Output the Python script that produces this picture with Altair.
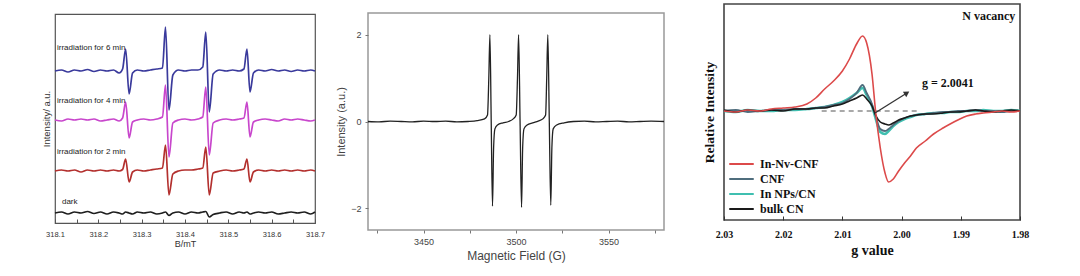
import altair as alt
import pandas as pd

SANS = "Liberation Sans"
SERIF = "Liberation Serif"

# ---------------- Panel A: EPR spectra for the irradiation series ----------------
A_FIELD_MT = [318.100, 318.115, 318.130, 318.145, 318.160, 318.175, 318.190, 318.205,
              318.220, 318.235, 318.248, 318.256, 318.263, 318.271, 318.279, 318.290,
              318.305, 318.320, 318.335, 318.348, 318.355, 318.363, 318.372, 318.385,
              318.400, 318.415, 318.430, 318.441, 318.448, 318.456, 318.465, 318.480,
              318.495, 318.510, 318.525, 318.536, 318.543, 318.550, 318.558, 318.570,
              318.585, 318.600, 318.615, 318.630, 318.645, 318.660, 318.675, 318.690,
              318.700]
A_6MIN = [0, 1, -1, 1, 0, 1.5, -0.5, 1, 0, 1, -2, 2, 22, -23, -2, 1, 0, 1, 2, 3,
          44, -39, -4, 1, 0, 1, 1, 4, 39, -41, -3, 1, 0, 1, 0, 2, 22, -21, -2, 1,
          0, 1.5, 0, 1, -0.5, 1, 0, 1, 0]
A_4MIN = [0, -1, 1, 0, 1, 0, 1, -1, 0, 1, -1, 2, 18, -18, -2, 0, 1, 0, 1, 3,
          35, -37, -3, 0, 1, 0, 1, 3, 33, -35, -3, 0, 1, 0, 1, 2, 18, -17, -2, 0,
          1, 0, -1, 1, 0, 1, 0, -1, 0]
A_2MIN = [0, 1, 0, 1, -1, 1, 0, 1, 0, 1, 0, 1.5, 12, -11, -1, 1, 0, 1, 2, 3,
          26, -24, -3, 0, 1, 1, 2, 3, 24, -24, -2, 0, 1, 0, 1, 2, 12, -11, -1, 1,
          0, 1, 0, 1, 0, 1, 0, 1, 0]
A_DARK = [0, 1, -1, 1, 0, 1.5, -0.5, 1, -1, 1, 0, -1, 1, 0, -1, 1, 0, 1, -1, 0,
          1, -2.5, 0, 1, -1, 1, 0, 1, 1.5, -4, -1.5, 0, 1, -1, 1, 0, 1, -1, 0, 1,
          0, 1, -1, 0, 1, 0, 1, -1, 1]
A_NAMES = ["irradiation for 6 min", "irradiation for 4 min", "irradiation for 2 min", "dark"]
A_OFFSETS = [152, 103, 52, 10]          # vertical stacking offset of each spectrum
A_COLORS = ["#3a3a9c", "#c846cc", "#b3302e", "#1e1e1e"]
A_LABEL_X = [318.1046, 318.1046, 318.1046, 318.116]
A_LABEL_Y = [175, 122, 71, 21]
A_TICKS = [318.10, 318.15, 318.20, 318.25, 318.30, 318.35, 318.40, 318.45, 318.50,
           318.55, 318.60, 318.65, 318.70]

# ---------------- Panel B: spin-trap spectrum ----------------
B_FIELD_G = [3420, 3426, 3432, 3438, 3444, 3450, 3456, 3462, 3468, 3474,
             3479, 3483, 3484.6, 3485.3, 3485.9, 3486.6, 3487.3, 3487.9, 3488.6, 3490,
             3493, 3496, 3498.5, 3500.1, 3500.8, 3501.4, 3502.2, 3503.0, 3503.6, 3504.3,
             3506, 3509, 3512, 3514.5, 3516.0, 3516.6, 3517.2, 3518.0, 3518.8, 3519.4,
             3520.1, 3522, 3526, 3531, 3537, 3543, 3549, 3555, 3561, 3567,
             3573, 3580]
B_INTENSITY = [0.0, -0.01, 0.01, 0.0, -0.01, 0.01, 0.0, 0.01, -0.01, 0.0,
               0.02, 0.06, 0.15, 1.0, 2.0, 0.0, -1.95, -0.6, -0.17, -0.08,
               -0.03, 0.0, 0.06, 0.15, 1.0, 2.0, 0.0, -1.98, -0.6, -0.17,
               -0.08, -0.03, 0.01, 0.06, 0.15, 1.0, 2.0, 0.0, -1.93, -0.6,
               -0.17, -0.08, -0.03, 0.0, 0.01, -0.01, 0.0, 0.01, -0.01, 0.0,
               0.01, 0.0]
B_TICKS_X = [3425, 3450, 3475, 3500, 3525, 3550, 3575]
B_TICKS_Y = [-2, 0, 2]

# ---------------- Panel C: N vacancy signal ----------------
C_G = [2.0300, 2.0280, 2.0260, 2.0240, 2.0220, 2.0200, 2.0180, 2.0160, 2.0145, 2.0130,
       2.0115, 2.0100, 2.0088, 2.0076, 2.0066, 2.0059, 2.0050, 2.0044, 2.0036, 2.0028,
       2.0022, 2.0014, 2.0005, 1.9995, 1.9985, 1.9975, 1.9960, 1.9946, 1.9930, 1.9918,
       1.9905, 1.9890, 1.9875, 1.9862, 1.9845, 1.9830, 1.9815, 1.9800]
C_INNVCNF = [0.00, -0.01, 0.01, 0.00, 0.02, 0.03, 0.04, 0.07, 0.13, 0.22,
             0.30, 0.40, 0.52, 0.67, 0.75, 0.68, 0.37, 0.00, -0.37, -0.62,
             -0.71, -0.68, -0.60, -0.52, -0.45, -0.37, -0.30, -0.23, -0.17, -0.13,
             -0.09, -0.05, -0.03, -0.02, -0.01, 0.00, -0.01, 0.00]
C_CNF = [0.00, 0.01, -0.01, 0.00, 0.01, 0.01, 0.02, 0.02, 0.03, 0.04,
         0.06, 0.08, 0.12, 0.18, 0.26, 0.18, 0.07, -0.05, -0.18, -0.20,
         -0.18, -0.14, -0.10, -0.07, -0.05, -0.04, -0.03, -0.02, -0.01, -0.01,
         0.00, 0.00, 0.01, 0.00, 0.00, -0.01, 0.00, 0.00]
C_INNPS = [0.00, -0.01, 0.01, 0.00, 0.00, 0.01, 0.01, 0.02, 0.03, 0.04,
           0.06, 0.09, 0.13, 0.18, 0.23, 0.16, 0.05, -0.07, -0.21, -0.23,
           -0.20, -0.15, -0.11, -0.08, -0.06, -0.04, -0.03, -0.02, -0.02, -0.01,
           -0.01, 0.00, 0.00, 0.01, 0.00, 0.00, 0.01, 0.00]
C_BULK = [0.01, -0.01, 0.01, 0.00, 0.01, 0.00, 0.02, 0.02, 0.03, 0.03,
          0.05, 0.07, 0.10, 0.13, 0.16, 0.12, 0.05, -0.04, -0.11, -0.13,
          -0.14, -0.12, -0.09, -0.07, -0.05, -0.04, -0.03, -0.03, -0.02, -0.01,
          -0.01, 0.00, 0.01, 0.00, -0.01, 0.00, 0.01, 0.00]
C_NAMES = ["In-Nv-CNF", "CNF", "In NPs/CN", "bulk CN"]
C_COLORS = ["#dc4a4a", "#4f6d7d", "#3fbfb0", "#1a1a1a"]
C_TICKS = [2.030, 2.025, 2.020, 2.015, 2.010, 2.005, 2.000, 1.995, 1.990, 1.985, 1.980]
C_ARROW = {"g": [2.0045], "v": [-0.02], "g2": [1.9991], "v2": [0.18]}
C_DASH = {"g": [2.0135], "g2": [1.9970], "v": [0.0]}
C_NOTES = {"g": [1.99655, 1.9808], "v": [0.28, 0.95], "t": ["g = 2.0041", "N vacancy"],
           "a": ["left", "right"]}

# =============================== Panel A ===============================
xA = alt.X("B:Q", scale=alt.Scale(domain=[318.1, 318.7], nice=False, zero=False),
           axis=alt.Axis(title="B/mT", values=A_TICKS,
                         labelExpr="round(datum.value * 100) % 10 == 0 ? format(datum.value, '.1f') : ''",
                         domain=False, grid=False, tickSize=4, offset=-4, tickColor="#555",
                         labelFont=SANS, labelFontSize=7.5, labelColor="#333", labelPadding=7,
                         labelFlush=False, labelOverlap=False,
                         titleFont=SANS, titleFontSize=9, titleFontWeight="normal",
                         titleColor="#333", titlePadding=2))
yA = alt.Y("I:Q", scale=alt.Scale(domain=[0, 209], nice=False, zero=False),
           axis=alt.Axis(title="Intensity/ a.u.", labels=False, ticks=False, domain=False,
                         grid=False, titleFont=SANS, titleFontSize=9.5,
                         titleFontWeight="normal", titleColor="#333", titlePadding=3.5))

a_series = [A_6MIN, A_4MIN, A_2MIN, A_DARK]
layersA = []
for i in [3, 2, 1, 0]:
    dfi = pd.DataFrame({"B": A_FIELD_MT, "I": [A_OFFSETS[i] + d for d in a_series[i]]})
    layersA.append(alt.Chart(dfi).mark_line(interpolate="monotone", strokeWidth=1.7,
                                            color=A_COLORS[i]).encode(x=xA, y=yA))
dfA_lab = pd.DataFrame({"B": A_LABEL_X, "I": A_LABEL_Y, "t": A_NAMES})
layersA.append(alt.Chart(dfA_lab).mark_text(align="left", baseline="middle", font=SANS,
                                            fontSize=8, color="#222").encode(x=xA, y=yA, text="t:N"))
p1 = alt.layer(*layersA).properties(
    width=260, height=209,
    view=alt.ViewBackground(stroke="#555", strokeWidth=1.2))

# =============================== Panel B ===============================
xB = alt.X("F:Q", scale=alt.Scale(domain=[3420, 3580], nice=False, zero=False),
           axis=alt.Axis(title="Magnetic Field (G)", values=B_TICKS_X,
                         labelExpr="datum.value % 50 == 0 ? format(datum.value, 'd') : ''",
                         domain=False, grid=False, tickSize=3, tickColor="#777",
                         labelFont=SANS, labelFontSize=9, labelColor="#444", labelPadding=4,
                         labelFlush=False, labelOverlap=False,
                         titleFont=SANS, titleFontSize=12, titleFontWeight="normal",
                         titleColor="#444", titlePadding=4))
yB = alt.Y("V:Q", scale=alt.Scale(domain=[-2.5, 2.5], nice=False, zero=False),
           axis=alt.Axis(title="Intensity (a.u.)", values=B_TICKS_Y, format="d",
                         domain=False, grid=False, tickSize=3, tickColor="#777",
                         labelFont=SANS, labelFontSize=9, labelColor="#444", labelPadding=4,
                         titleFont=SANS, titleFontSize=11, titleFontWeight="normal",
                         titleColor="#444", titlePadding=4))
dfB = pd.DataFrame({"F": B_FIELD_G, "V": B_INTENSITY})
p2 = alt.Chart(dfB).mark_line(interpolate="monotone", strokeWidth=1.3, color="#222").encode(
    x=xB, y=yB).properties(
    width=296, height=217,
    view=alt.ViewBackground(stroke="#999", strokeWidth=1.5))

# =============================== Panel C ===============================
xC = alt.X("g:Q", scale=alt.Scale(domain=[1.98, 2.03], reverse=True, nice=False, zero=False),
           axis=alt.Axis(title="g value", values=C_TICKS,
                         labelExpr="round(datum.value * 1000) % 10 == 0 ? format(datum.value, '.2f') : ''",
                         domain=False, grid=False, tickSize=4, offset=-4, tickColor="#333",
                         labelFont=SERIF, labelFontSize=10, labelFontWeight="bold",
                         labelColor="#111", labelPadding=9, labelFlush=False, labelOverlap=False,
                         titleFont=SERIF, titleFontSize=14, titleFontWeight="bold",
                         titleColor="#111", titlePadding=4))
yC = alt.Y("v:Q", scale=alt.Scale(domain=[-1.09, 1.07], nice=False, zero=False),
           axis=alt.Axis(title="Relative Intensity", labels=False, ticks=False, domain=False,
                         grid=False, titleFont=SERIF, titleFontSize=13.5, titleFontWeight="bold",
                         titleColor="#111", titlePadding=8))
colorC = alt.Color("s:N", scale=alt.Scale(domain=C_NAMES, range=C_COLORS),
                   legend=alt.Legend(title=None, orient="none", legendX=673, legendY=154,
                                     symbolType="stroke", symbolSize=600, symbolStrokeWidth=2,
                                     clipHeight=12, rowPadding=3.0, padding=0, labelOffset=5,
                                     labelFont=SERIF, labelFontWeight="bold", labelFontSize=12,
                                     labelColor="#111"))
c_series = {"In-Nv-CNF": C_INNVCNF, "CNF": C_CNF, "In NPs/CN": C_INNPS, "bulk CN": C_BULK}
c_width = {"In-Nv-CNF": 1.6, "CNF": 1.8, "In NPs/CN": 2.6, "bulk CN": 1.6}


def c_line(name):
    dfc = pd.DataFrame({"g": C_G, "v": c_series[name], "s": [name] * len(C_G)})
    return alt.Chart(dfc).mark_line(interpolate="monotone", strokeWidth=c_width[name]).encode(
        x=xC, y=yC, color=colorC)


dash = alt.Chart(pd.DataFrame(C_DASH)).mark_rule(strokeDash=[5, 4], color="#555",
                                                 strokeWidth=1.2).encode(x=xC, x2="g2:Q", y=yC)
arrow = alt.Chart(pd.DataFrame(C_ARROW)).mark_rule(color="#333", strokeWidth=1.3).encode(
    x=xC, y=yC, x2="g2:Q", y2="v2:Q")
head = alt.Chart(pd.DataFrame(C_ARROW)).mark_point(shape="triangle-up", filled=True, size=40,
                                                   angle=58, color="#333", opacity=1).encode(
    x=alt.X("g2:Q", scale=alt.Scale(domain=[1.98, 2.03], reverse=True, nice=False, zero=False)),
    y=alt.Y("v2:Q", scale=alt.Scale(domain=[-1.09, 1.07], nice=False, zero=False)))
notes_df = pd.DataFrame(C_NOTES)
note_left = alt.Chart(notes_df[notes_df["a"] == "left"]).mark_text(
    align="left", baseline="middle", font=SERIF, fontWeight="bold", fontSize=12,
    color="#111").encode(x=xC, y=yC, text="t:N")
note_right = alt.Chart(notes_df[notes_df["a"] == "right"]).mark_text(
    align="right", baseline="middle", font=SERIF, fontWeight="bold", fontSize=12,
    color="#111").encode(x=xC, y=yC, text="t:N")

p3 = alt.layer(c_line("In NPs/CN"), c_line("CNF"), c_line("bulk CN"), dash,
               c_line("In-Nv-CNF"), arrow, head, note_left, note_right).properties(
    width=296, height=216,
    view=alt.ViewBackground(stroke="#444", strokeWidth=1.6))


def blank(w, h):
    return alt.Chart(pd.DataFrame({"z": [0]})).mark_point(size=0, opacity=0).encode(
        x=alt.value(1), y=alt.value(1)).properties(
        width=w, height=h, view=alt.ViewBackground(stroke="transparent", strokeWidth=0))


col1 = alt.vconcat(blank(10, 9), p1, spacing=0)
col2 = alt.vconcat(blank(10, 8), p2, spacing=0)

chart = alt.hconcat(col1, col2, blank(15, 5), p3, spacing=9).properties(
    padding={"left": 40, "top": 3, "right": 5, "bottom": 5},
    background="white")

chart.save("out.html", embed_options={"renderer": "svg", "actions": False})
